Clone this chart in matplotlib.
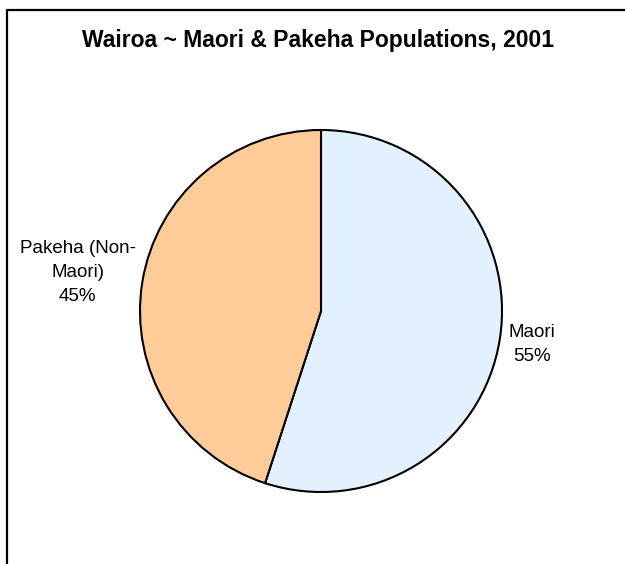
import numpy as np
import matplotlib
matplotlib.use("Agg")
import matplotlib.pyplot as plt
from matplotlib.patches import Rectangle

plt.rcParams["font.family"] = ["Liberation Sans", "DejaVu Sans"]

TITLE = "Wairoa ~ Maori & Pakeha Populations, 2001"
groups = ["Maori", "Pakeha (Non-\nMaori)"]
shares = [55, 45]
colors = ["#E3F1FF", "#FFCC99"]
label_dist = [1.18, 1.36]

W, H = 625, 564
fig = plt.figure(figsize=(W / 100, H / 100), dpi=100)

# outer frame, runs off the right and bottom edges
fig.patches.append(Rectangle((7 / W, -0.1), 1.1, 1 - 10 / H + 0.1,
                             transform=fig.transFigure, fill=False,
                             edgecolor="black", linewidth=1.6))

fig.text(318 / W, 1 - 41 / H, TITLE, ha="center", va="center",
         fontsize=16.5, fontweight="bold")

r = 181
cx, cy = 321, 311
ax = fig.add_axes([(cx - r) / W, (H - cy - r) / H, 2 * r / W, 2 * r / H])
wedges, _ = ax.pie(shares, colors=colors, startangle=90, counterclock=False,
                   wedgeprops=dict(edgecolor="black", linewidth=1.5))
ax.set_xlim(-1, 1)
ax.set_ylim(-1, 1)
ax.axis("off")

for w, name, pct, d in zip(wedges, groups, shares, label_dist):
    ang = np.deg2rad((w.theta1 + w.theta2) / 2)
    ax.text(d * np.cos(ang), d * np.sin(ang), f"{name}\n{pct}%",
            ha="center", va="center", multialignment="center",
            fontsize=13.5, linespacing=1.55)

fig.savefig("out.png", dpi=100)
